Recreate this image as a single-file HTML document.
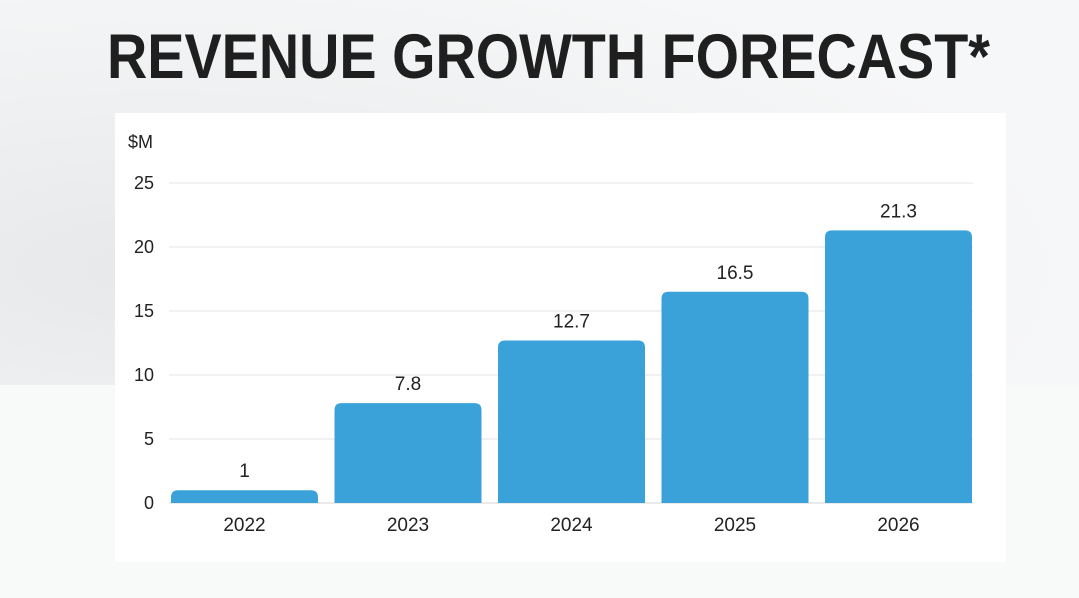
<!DOCTYPE html>
<html><head><meta charset="utf-8"><style>
html,body{margin:0;padding:0;width:1079px;height:598px;overflow:hidden;font-family:"Liberation Sans","DejaVu Sans",sans-serif}
#bg{position:absolute;inset:0;background:radial-gradient(ellipse at 15% 45%,#e6e8ea 0%,#eef0f1 35%,#f6f7f8 70%),#f4f5f6}
#bg2{position:absolute;left:0;top:385px;width:1079px;height:213px;background:#f8f9f9}
#panel{position:absolute;left:115px;top:113px;width:891px;height:449px;background:#fff}
svg{position:absolute;left:0;top:0}
</style></head><body>
<div id="bg"></div>
<div id="bg2"></div>
<div id="panel"></div>
<svg id="chart" width="1079" height="598">
<text x="107" y="78" textLength="883" lengthAdjust="spacingAndGlyphs" font-size="63" font-weight="bold" fill="#1f1f1f" font-family="Liberation Sans, sans-serif">REVENUE GROWTH FORECAST*</text>
</svg>
<script>
const categories=["2022","2023","2024","2025","2026"];
const values=[1,7.8,12.7,16.5,21.3];
const valueLabels=["1","7.8","12.7","16.5","21.3"];
const yTicks=[0,5,10,15,20,25];
const svg=document.getElementById('chart');
const NS='http://www.w3.org/2000/svg';
const y0=503,y1=183,yMax=25,xL=169,xR=973;
const y=v=>y0-(v/yMax)*(y0-y1);
const band=163.5;
const bx=i=>244.5+i*band;
const bw=147;
function mk(t,a,txt){const e=document.createElementNS(NS,t);for(const k in a)e.setAttribute(k,a[k]);if(txt!=null)e.textContent=txt;svg.appendChild(e);return e;}
const unit=mk('text',{x:128,y:148,'font-size':18,fill:'#222'},'$M');


yTicks.forEach(t=>{
  if(t>0){const g=mk('line',{x1:xL,x2:xR,y1:y(t),y2:y(t),stroke:'#e3e3e3','stroke-width':1});
  
  }
  const l=mk('text',{x:154,y:y(t)+6,'text-anchor':'end','font-size':18,fill:'#222'},String(t));
  
  
});
const base=mk('line',{x1:xL,x2:xR,y1:y0,y2:y0,stroke:'#d5d5d5','stroke-width':1});


categories.forEach((c,i)=>{
  const cx=bx(i),top=y(values[i]),h=y0-top,r=Math.min(7,h);
  const x0=cx-bw/2,x1=cx+bw/2;
  const p=mk('path',{d:`M${x0},${y0}L${x0},${top+r}Q${x0},${top} ${x0+r},${top}L${x1-r},${top}Q${x1},${top} ${x1},${top+r}L${x1},${y0}Z`,fill:'#3aa2d8'});
  
  
  const v=mk('text',{x:cx,y:top-13,'text-anchor':'middle','font-size':19,fill:'#222'},valueLabels[i]);
  
  
  const xl=mk('text',{x:cx,y:531,'text-anchor':'middle','font-size':19,fill:'#222'},c);
  
  
});
</script>
</body></html>
